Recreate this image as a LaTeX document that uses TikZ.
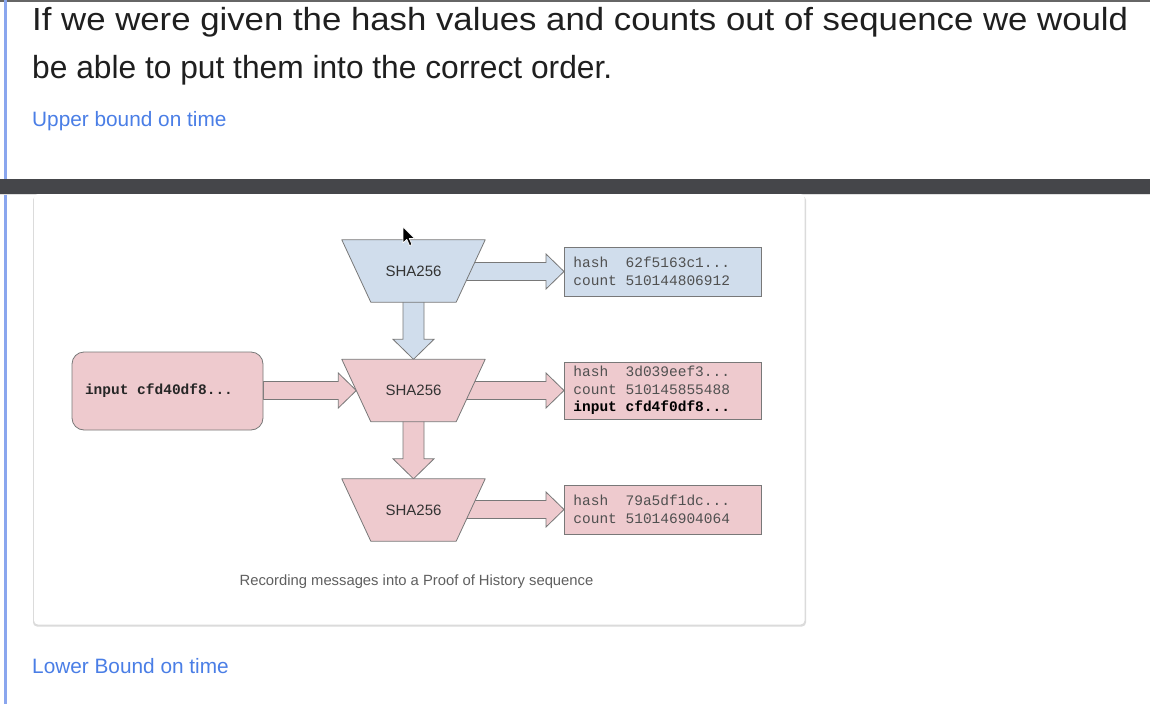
\documentclass[tikz,border=0pt]{standalone}
\usepackage{fontspec}
\usepackage{graphicx}
\setmainfont{Liberation Sans}
\newfontfamily\monofont{Liberation Mono}
\newcommand{\msp}{\hspace*{0.6em}}
\usetikzlibrary{calc,backgrounds}
\definecolor{bfill}{RGB}{208,221,236}
\definecolor{pfill}{RGB}{238,202,206}
\definecolor{bord}{RGB}{120,120,120}
\definecolor{linkblue}{RGB}{74,126,230}
\definecolor{barcol}{RGB}{69,70,74}
\definecolor{boxtext}{RGB}{80,80,80}
\definecolor{captext}{RGB}{95,95,95}
\definecolor{sidebl}{RGB}{138,166,238}
\pgfdeclarelayer{arrowlayer}
\pgfdeclarelayer{shapelayer}
\pgfsetlayers{background,arrowlayer,shapelayer,main}
\newcommand{\hblock}[3]{%
  \draw[#3] let \p1=(#1), \p2=(#2) in
    (\x1,{\y2+9pt}) -- ({\x2-18pt},{\y2+9pt}) -- ({\x2-18pt},{\y2+17.5pt}) -- (\x2,\y2)
    -- ({\x2-18pt},{\y2-17.5pt}) -- ({\x2-18pt},{\y2-9pt}) -- (\x1,{\y2-9pt}) -- cycle;}
\newcommand{\vblock}[3]{%
  \draw[#3] let \p1=(#1), \p2=(#2) in
    ({\x2-10.5pt},\y1) -- ({\x2-10.5pt},{\y2+20pt}) -- ({\x2-20.5pt},{\y2+20pt}) -- (\x2,\y2)
    -- ({\x2+20.5pt},{\y2+20pt}) -- ({\x2+10.5pt},{\y2+20pt}) -- ({\x2+10.5pt},\y1) -- cycle;}
\begin{document}
\begin{tikzpicture}[x=1pt,y=-1pt,
  hashnode/.style={minimum width=143, minimum height=62, inner sep=0pt,
    font=\fontsize{15}{17}\selectfont, text=black!80},
  trapblue/.style={fill=bfill, draw=bord, line width=0.8pt, line join=round},
  trappink/.style={fill=pfill, draw=bord, line width=0.8pt, line join=round},
  outbox/.style={draw=bord, line width=0.8pt, anchor=west, minimum width=197, minimum height=49,
    inner xsep=9pt, inner ysep=2pt, text width=179, align=left,
    font=\monofont\fontsize{14.5}{17.5}\selectfont, text=boxtext},
  arrblue/.style={fill=bfill, draw=bord, line width=0.8pt, line join=miter},
  arrpink/.style={fill=pfill, draw=bord, line width=0.8pt, line join=miter},
  heading/.style={anchor=base west, inner sep=0pt, font=\fontsize{32}{38}\selectfont, text=black!88},
  linktext/.style={anchor=base west, inner sep=0pt, font=\fontsize{20.8}{24}\selectfont, text=linkblue},
]
\useasboundingbox (0,0) rectangle (1150,704);
\begin{pgfonlayer}{background}
  \fill[white] (0,0) rectangle (1150,704);
  \fill[black!60] (0,0) rectangle (1150,1.5);
  \fill[sidebl] (4,0) rectangle (6.5,704);
  \fill[barcol] (0,179) rectangle (1150,194);
  \fill[black!12] (0,194) rectangle (1150,195);
  % card
  \fill[black!14, rounded corners=4] (33,196) rectangle (806,626.5);
  \fill[white, rounded corners=4] (34,194) rectangle (804.5,624.5);
\end{pgfonlayer}

% header texts
\node[heading] (h1) at (32,30) {\resizebox{1096pt}{\height}{If we were given the hash values and counts out of sequence we would}};
\node[heading] (h2) at (32,78) {\resizebox{580pt}{\height}{be able to put them into the correct order.}};
\node[linktext] (up) at (32,126) {Upper bound on time};
\node[linktext] (low) at (32,673) {Lower Bound on time};
\node[anchor=base, inner sep=0pt, font=\fontsize{14.8}{17}\selectfont, text=captext] (cap) at (416.5,585)
  {Recording messages into a Proof of History sequence};

% hash nodes
\node[hashnode] (t1) at (413.5,271) {SHA256};
\node[hashnode] (t2) at (413.5,390.5) {SHA256};
\node[hashnode] (t3) at (413.5,510) {SHA256};
\coordinate (t2in) at ($(t2.west)+(14.5,0)$);

% output boxes
\node[outbox, fill=bfill] (b1) at (564,271.5) {hash\msp\msp62f5163c1...\\count\msp510144806912};
\node[outbox, fill=pfill, minimum height=57] (b2) at (564,390.5)
  {hash\msp\msp3d039eef3...\\count\msp510145855488\\\textcolor{black}{\bfseries input\msp cfd4f0df8...}};
\node[outbox, fill=pfill] (b3) at (564,509.5) {hash\msp\msp79a5df1dc...\\count\msp510146904064};

% input
\node[draw=bord, line width=0.8pt, fill=pfill, rounded corners=12, minimum width=191, minimum height=78,
  inner xsep=13pt, text width=165, align=left, font=\monofont\bfseries\fontsize{14.5}{17}\selectfont,
  text=black!85] (in) at (167.5,391) {input\msp cfd40df8...};

% trapezoid shapes
\begin{pgfonlayer}{shapelayer}
  \draw[trapblue] (t1.north west) -- (t1.north east) -- ($(t1.south east)+(-29,0)$) -- ($(t1.south west)+(29,0)$) -- cycle;
  \draw[trappink] (t2.north west) -- (t2.north east) -- ($(t2.south east)+(-29,0)$) -- ($(t2.south west)+(29,0)$) -- cycle;
  \draw[trappink] (t3.north west) -- (t3.north east) -- ($(t3.south east)+(-29,0)$) -- ($(t3.south west)+(29,0)$) -- cycle;
\end{pgfonlayer}

% block arrows
\begin{pgfonlayer}{arrowlayer}
  \hblock{t1.center}{b1.west}{arrblue}
  \hblock{t2.center}{b2.west}{arrpink}
  \hblock{t3.center}{b3.west}{arrpink}
  \hblock{in.east}{t2in}{arrpink}
  \vblock{t1.center}{t2.north}{arrblue}
  \vblock{t2.center}{t3.north}{arrpink}
\end{pgfonlayer}

% mouse cursor
\coordinate (cur) at (403,227);
\filldraw[fill=black, draw=white, line width=0.7pt, line join=round]
  (cur) -- ++(0,16) -- ++(3.8,-3.6) -- ++(2.8,6.2) -- ++(2.4,-1.1) -- ++(-2.7,-6) -- ++(5.2,0) -- cycle;
\end{tikzpicture}
\end{document}
